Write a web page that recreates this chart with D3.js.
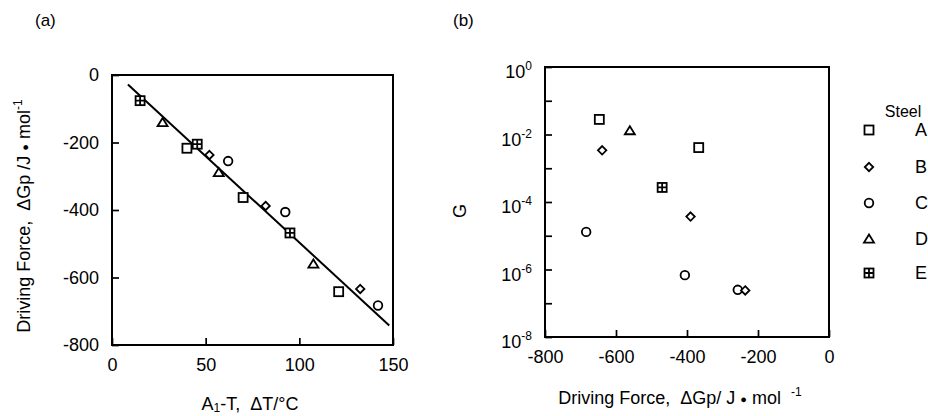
<!DOCTYPE html>
<html>
<head>
<meta charset="utf-8">
<script src="https://cdn.jsdelivr.net/npm/d3@7"></script>
<style>
  body { margin: 0; background: #fff; }
  svg text { font-family: "Liberation Sans", Arial, sans-serif; fill: #000; white-space: pre; }
</style>
</head>
<body>
<div id="chart"></div>
<script>
// (a) driving force vs undercooling
const aSteel = ["E", "D", "A", "E", "B", "C", "D", "A", "B", "C", "E", "D", "A", "B", "C"];
const aUndercool = [15, 27, 40, 45.5, 52, 62, 57, 70, 82, 92.5, 95, 107.5, 121, 132.5, 142];
const aDrivingForce = [-76, -141, -217, -205, -237, -255, -289, -363, -388, -406, -468, -560, -642, -634, -683];
const fitX = [8.5, 148];
const fitY = [-28, -742];
const aXTicks = [0, 50, 100, 150];
const aYTicks = [0, -200, -400, -600, -800];

// (b) G vs driving force
const bSteel = ["A", "D", "A", "B", "E", "B", "C", "C", "C", "B"];
const bDrivingForce = [-647, -561, -367, -639, -470, -390, -684, -406, -257, -236];
const bG = [2.8e-2, 1.3e-2, 4.1e-3, 3.4e-3, 2.7e-4, 3.7e-5, 1.3e-5, 6.8e-7, 2.5e-7, 2.4e-7];
const bXTicks = [-800, -600, -400, -200, 0];
const bYExponents = [0, -1, -2, -3, -4, -5, -6, -7, -8];
const bYLabelExponents = [0, -2, -4, -6, -8];

const steels = ["A", "B", "C", "D", "E"];

const svg = d3.select("#chart").append("svg")
    .attr("width", 928)
    .attr("height", 416);

// hyphen minus like the original print
const fmt = d => String(d);

// draw one marker by steel type
function marker(g, steel, x, y) {
    const s = g.append("g").attr("transform", `translate(${x},${y})`)
        .attr("fill", "#fff").attr("stroke", "#000").attr("stroke-width", 1.8);
    if (steel === "A") {
        s.append("rect").attr("x", -4.5).attr("y", -4.5).attr("width", 9).attr("height", 9);
    } else if (steel === "B") {
        s.append("path").attr("d", "M0,-4.2L4.2,0L0,4.2L-4.2,0Z");
    } else if (steel === "C") {
        s.append("circle").attr("r", 4.3);
    } else if (steel === "D") {
        s.append("path").attr("d", "M0,-4.5L5,3.6L-5,3.6Z");
    } else {
        s.append("rect").attr("x", -4.5).attr("y", -4.5).attr("width", 9).attr("height", 9);
        s.append("path").attr("d", "M0,-4.5V4.5M-4.5,0H4.5");
    }
}

function frame(g, w, h) {
    g.append("rect").attr("width", w).attr("height", h)
        .attr("fill", "none").attr("stroke", "#000").attr("stroke-width", 2);
}

function styleAxis(g) {
    g.select(".domain").remove();
    g.selectAll("line").attr("stroke-width", 1.7);
    g.selectAll("text").attr("font-size", 18).attr("font-family", "Liberation Sans, Arial");
}

// ---------- panel (a) ----------
const aW = 281, aH = 270;
const ga = svg.append("g").attr("transform", "translate(112,75)");
const xa = d3.scaleLinear().domain([0, 150]).range([0, aW]);
const ya = d3.scaleLinear().domain([-800, 0]).range([aH, 0]);

ga.append("g").attr("transform", `translate(0,${aH})`)
    .call(d3.axisBottom(xa).tickValues(aXTicks).tickFormat(fmt).tickSize(-7).tickSizeOuter(0).tickPadding(13))
    .call(styleAxis);

ga.append("g")
    .call(d3.axisLeft(ya).tickValues(aYTicks).tickFormat(fmt).tickSize(-7).tickSizeOuter(0).tickPadding(13))
    .call(styleAxis);

frame(ga, aW, aH);

ga.append("line")
    .attr("x1", xa(fitX[0])).attr("y1", ya(fitY[0]))
    .attr("x2", xa(fitX[1])).attr("y2", ya(fitY[1]))
    .attr("stroke", "#000").attr("stroke-width", 2);

aSteel.forEach((s, i) => marker(ga, s, xa(aUndercool[i]), ya(aDrivingForce[i])));

svg.append("text").attr("x", 35).attr("y", 26).attr("font-size", 17).text("(a)");

const aYLabel = svg.append("text")
    .attr("transform", "translate(30,216) rotate(-90)")
    .attr("text-anchor", "middle").attr("font-size", 18);
aYLabel.append("tspan").text("Driving Force,  \u0394Gp /J ");
aYLabel.append("tspan").attr("font-size", 11).attr("dy", -1).text("\u25CF");
aYLabel.append("tspan").attr("dy", 1).text(" mol");
aYLabel.append("tspan").attr("font-size", 12).attr("dy", -8).text("-1");

const aXLabel = svg.append("text")
    .attr("x", 250).attr("y", 410).attr("text-anchor", "middle").attr("font-size", 18);
aXLabel.append("tspan").text("A");
aXLabel.append("tspan").attr("font-size", 12).attr("dy", 2).text("1");
aXLabel.append("tspan").attr("dy", -2).text("-T,  \u0394T/\u00B0C");

// ---------- panel (b) ----------
const bW = 284, bH = 270;
const gb = svg.append("g").attr("transform", "translate(545,67)");
const xb = d3.scaleLinear().domain([-800, 0]).range([0, bW]);
const yb = d3.scaleLog().domain([1e-8, 1]).range([bH, 0]);

gb.append("g").attr("transform", `translate(0,${bH})`)
    .call(d3.axisBottom(xb).tickValues(bXTicks).tickFormat(fmt).tickSize(-7).tickSizeOuter(0).tickPadding(13))
    .call(styleAxis);

gb.append("g")
    .call(d3.axisLeft(yb).tickValues(bYExponents.map(e => Math.pow(10, e))).tickSize(-7).tickSizeOuter(0).tickFormat(""))
    .call(styleAxis);

bYLabelExponents.forEach(e => {
    const t = gb.append("text")
        .attr("x", -13).attr("y", yb(Math.pow(10, e)) + 11)
        .attr("text-anchor", "end").attr("font-size", 18);
    t.append("tspan").text("10");
    t.append("tspan").attr("font-size", 12).attr("dy", -8).text(String(e));
});

frame(gb, bW, bH);

bSteel.forEach((s, i) => marker(gb, s, xb(bDrivingForce[i]), yb(bG[i])));

svg.append("text").attr("x", 453).attr("y", 26).attr("font-size", 17).text("(b)");

svg.append("text")
    .attr("transform", "translate(466,211) rotate(-90)")
    .attr("text-anchor", "middle").attr("font-size", 18).text("G");

const bXLabel = svg.append("text")
    .attr("x", 680).attr("y", 404).attr("text-anchor", "middle").attr("font-size", 18);
bXLabel.append("tspan").text("Driving Force,  \u0394Gp/ J ");
bXLabel.append("tspan").attr("font-size", 11).attr("dy", -1).text("\u25CF");
bXLabel.append("tspan").attr("dy", 1).text(" mol  ");
bXLabel.append("tspan").attr("font-size", 12).attr("dy", -8).text("-1");

// legend
svg.append("text").attr("x", 903).attr("y", 117).attr("text-anchor", "middle")
    .attr("font-size", 16).text("Steel");
steels.forEach((s, i) => {
    const y = [130, 167, 203, 239, 273][i];
    marker(svg, s, 869, y);
    svg.append("text").attr("x", 915).attr("y", y + 6).attr("font-size", 18).text(s);
});
</script>
</body>
</html>
